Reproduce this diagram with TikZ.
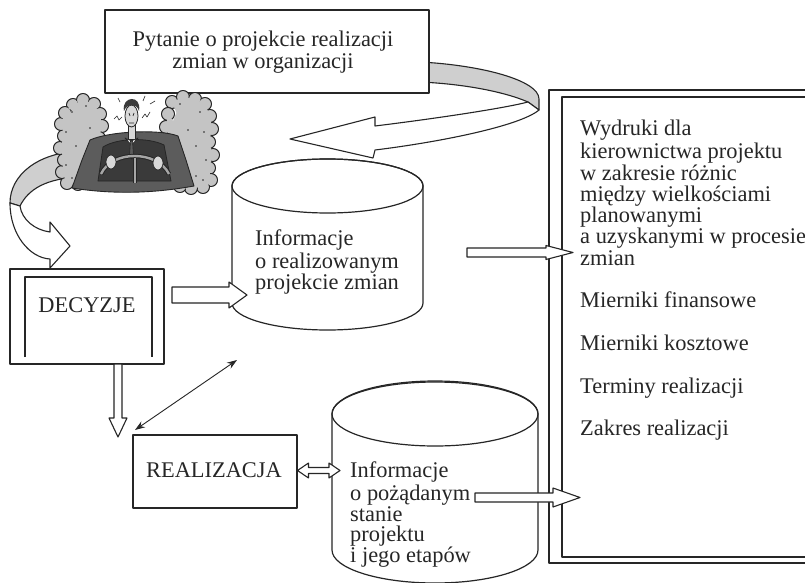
\documentclass[tikz,border=0pt]{standalone}
\usepackage{fontspec}
\setmainfont{Liberation Serif}
\usetikzlibrary{calc,arrows.meta}

\definecolor{ink}{HTML}{262626}
\definecolor{bandgray}{HTML}{CFCFCF}
\definecolor{cloud}{HTML}{C4C4C4}
\definecolor{coat}{HTML}{5C5C5C}
\definecolor{darkcoat}{HTML}{3A3A3A}
\definecolor{skin}{HTML}{D8D8D8}

% hollow block arrow: start, tip, shaft half-width, head half-width, head length
\newcommand\hollowarrow[5]{%
  \coordinate (ha-b) at ($(#2)!#5!(#1)$);
  \draw[blockarrow]
    ($(#1)!#3!90:(#2)$) -- ($(ha-b)!#3!90:(#2)$) -- ($(ha-b)!#4!90:(#2)$) -- (#2)
    -- ($(ha-b)!#4!-90:(#2)$) -- ($(ha-b)!#3!-90:(#2)$) -- ($(#1)!#3!-90:(#2)$) -- cycle;
}
% hollow block arrow with a head at both ends
\newcommand\hollowdarrow[5]{%
  \coordinate (hb-a) at ($(#1)!#5!(#2)$);
  \coordinate (hb-b) at ($(#2)!#5!(#1)$);
  \draw[blockarrow]
    (#1) -- ($(hb-a)!#4!90:(#2)$) -- ($(hb-a)!#3!90:(#2)$) -- ($(hb-b)!#3!90:(#2)$)
    -- ($(hb-b)!#4!90:(#2)$) -- (#2) -- ($(hb-b)!#4!-90:(#2)$) -- ($(hb-b)!#3!-90:(#2)$)
    -- ($(hb-a)!#3!-90:(#2)$) -- ($(hb-a)!#4!-90:(#2)$) -- cycle;
}
% lumpy smoke column: rim points, puff radius, inner centre, inner half-width, inner half-height
\newcommand\smokecolumn[5]{%
  \foreach \px/\py in {#1} \draw[draw=ink, line width=1pt, fill=cloud] (\px,\py) circle[radius=#2];
  \foreach \px/\py in {#1} \fill[cloud] (\px,\py) circle[radius=#2-1pt];
  \fill[cloud] (#3) \foreach \px/\py in {#1} { -- (\px,\py) } -- cycle;
  \fill[cloud] (#3) ellipse[x radius=#4, y radius=#5];
}

\begin{document}
\begin{tikzpicture}[x=1pt, y=-1pt, line join=round,
  ln/.style={draw=ink, line width=1.2pt},
  box/.style={ln, fill=white, inner sep=0pt},
  lbl/.style={font=\fontsize{22.4}{#1}\selectfont, text=ink, inner sep=0pt},
  lbl/.default=21.3,
  blockarrow/.style={draw=ink, line width=1.1pt, fill=white},
  band/.style={draw=ink, line width=1.1pt, fill=bandgray},
  cylbody/.style={ln, fill=white},
]
\useasboundingbox (0,0) rectangle (805,583);
\fill[white] (0,0) rectangle (805,583);

% ---------- report frame on the right ----------
\draw[ln] (549,90) rectangle (830,563);
\draw[ln] (562,97) rectangle (820,557);
\node[lbl, anchor=north west, align=left] (report) at (580,120.1)
  {\strut Wydruki dla\\kierownictwa projektu\\w zakresie różnic\\między wielkościami\\planowanymi\\a uzyskanymi w procesie\\zmian\\[21.3pt]
   Mierniki finansowe\\[21.3pt]Mierniki kosztowe\\[21.3pt]Terminy realizacji\\[21.3pt]Zakres realizacji};

% ---------- ribbon arrow returning from the right ----------
\draw[band] (420,62) .. controls (480,65) and (539,80) .. (539,99) -- (539,110) -- (528,102)
  .. controls (505,92) and (465,84) .. (420,82) -- cycle;
\node[box, minimum width=324pt, minimum height=83pt] (question) at (267,51.5) {};
\node[lbl=21, anchor=north, align=center] (questiontxt) at (263,30.3)
  {\strut Pytanie o projekcie realizacji\\zmian w organizacji};
\draw[blockarrow] (528,102) .. controls (505,108) and (440,118) .. (375,126) -- (375,117)
  -- (290,139) -- (373,158) -- (375,150) .. controls (440,142) and (520,126) .. (539,110) -- cycle;

% ---------- ribbon arrow from the driver down to the decisions ----------
\draw[band] (82,151) .. controls (38,152) and (10,175) .. (10,203) -- (20,206)
  .. controls (28,190) and (45,178) .. (82,177) -- cycle;

% ---------- driver in the smoke ----------
\begin{scope}
  % smoke columns
  \smokecolumn{73/105, 83/100, 94/104, 100/114, 102/126, 99/138, 101/150, 98/163,
    99/175, 90/183, 78/184, 67/183, 62/172, 64/160, 60/148, 64/136, 61/124, 65/113}{6.5pt}{81,143}{18pt}{38pt}
  \smokecolumn{172/102, 183/97, 195/99, 205/104, 210/116, 212/129, 209/142, 213/155,
    209/168, 211/180, 203/187, 191/188, 180/186, 172/177, 170/164, 166/152, 170/139,
    166/127, 168/114}{6.5pt}{189,143}{19pt}{40pt}
  \foreach \dx/\dy in {72/112, 86/106, 66/132, 90/128, 76/146, 66/165, 84/170, 72/178, 94/158,
      180/104, 200/112, 188/130, 204/132, 196/146, 178/150, 206/160, 196/176, 184/180, 203/180}
    \fill[ink] (\dx,\dy) circle[radius=0.9pt];
  % car interior
  \filldraw[draw=ink, line width=0.9pt, fill=coat] (90,140) .. controls (110,131) and (160,129) .. (178,136)
    -- (186,160) -- (194,186) .. controls (150,194) and (110,194) .. (72,188) -- (82,160) -- cycle;
  % torso
  \filldraw[draw=ink, line width=0.8pt, fill=darkcoat] (103,147) .. controls (117,138) and (148,137) .. (164,145)
    -- (171,181) -- (98,181) -- cycle;
  % neck, collar and tie
  \filldraw[draw=ink, line width=0.7pt, fill=skin] (128,125) rectangle (135,139);
  \filldraw[draw=ink, line width=0.7pt, fill=white] (125,138) -- (131.5,145) -- (138,138) -- (131.5,141) -- cycle;
  \filldraw[draw=ink, line width=0.6pt, fill=coat] (130.5,141) -- (132.5,141) -- (133.5,156) -- (131.5,159) -- (129.5,156) -- cycle;
  % head and hair
  \filldraw[draw=ink, line width=0.8pt, fill=skin] (131.5,116) ellipse[x radius=6.5pt, y radius=11pt];
  \fill[darkcoat] (124,111) .. controls (121,96) and (142,94) .. (139,111) .. controls (137,103) and (127,103) .. cycle;
  \draw[ink, line width=0.7pt] (129,113) -- (130,116) (134,113) -- (133,116) (129,123) -- (134,123);
  % stress marks
  \draw[ink, line width=0.6pt] (114,119) -- (117,116) -- (119,120) -- (122,117)
    (142,118) -- (145,114) -- (147,117) -- (150,112)
    (118,98) -- (120,102) (145,96) -- (143,101) (150,104) -- (155,101);
  % steering wheel
  \draw[ink, line width=4.4pt] (101,174) .. controls (112,150) and (157,150) .. (169,174);
  \draw[gray!70, line width=2.4pt] (101,174) .. controls (112,150) and (157,150) .. (169,174);
  \draw[ink, line width=3.6pt] (135,158) -- (135,183);
  \draw[gray!70, line width=1.8pt] (135,158) -- (135,183);
  % hands
  \filldraw[draw=ink, line width=0.7pt, fill=skin] (111,162) ellipse[x radius=5pt, y radius=7pt];
  \filldraw[draw=ink, line width=0.7pt, fill=skin] (158,163) ellipse[x radius=5pt, y radius=7pt];
\end{scope}

\draw[blockarrow] (10,203) .. controls (10,235) and (30,258) .. (50,259) -- (50,268) -- (70,246)
  -- (50,222) -- (50,232) .. controls (35,230) and (22,220) .. (20,206) -- cycle;

% ---------- decisions ----------
\node[box, minimum width=154pt, minimum height=95pt] (dec) at (87,316.5) {};
\draw[ln] (25,357) -- (25,277) -- (152,277) -- (152,357);
\node[lbl, anchor=base] (dectxt) at (87,312) {DECYZJE};

% ---------- realisation ----------
\node[box, minimum width=164pt, minimum height=73pt] (real) at (215,471.5) {};
\node[lbl, anchor=base] (realtxt) at (214,477) {REALIZACJA};

% ---------- database: project being carried out ----------
\filldraw[cylbody] (232,186) -- (232,303) arc[start angle=180, end angle=360, x radius=95.5pt, y radius=27pt]
  -- (423,186) arc[start angle=0, end angle=180, x radius=95.5pt, y radius=27pt] -- cycle;
\draw[ln] (327.5,186) ellipse[x radius=95.5pt, y radius=27pt];
\node[lbl=21, anchor=north west, align=left] (cyl1txt) at (255,229.3)
  {\strut Informacje\\o realizowanym\\projekcie zmian};

% ---------- database: desired state ----------
\filldraw[cylbody] (332,414) -- (332,550) arc[start angle=180, end angle=360, x radius=103pt, y radius=33pt]
  -- (538,414) arc[start angle=0, end angle=180, x radius=103pt, y radius=33pt] -- cycle;
\draw[ln] (435,414) ellipse[x radius=103pt, y radius=32pt];
\node[lbl=20.5, anchor=north west, align=left] (cyl2txt) at (350,462)
  {\strut Informacje\\o pożądanym\\stanie\\projektu\\i jego etapów};

% ---------- connectors ----------
\coordinate (decout) at (172,295);
\coordinate (cyl1in) at (247,295);
\hollowarrow{decout}{cyl1in}{8pt}{13pt}{18pt}

\coordinate (decdown) at (118,364);
\coordinate (realin) at (118,437);
\hollowarrow{decdown}{realin}{4pt}{9pt}{19pt}

\coordinate (cyl1out) at (467,252.5);
\coordinate (reportin1) at (573,252.5);
\hollowarrow{cyl1out}{reportin1}{4.5pt}{7pt}{27pt}

\coordinate (cyl2out) at (475,497.5);
\coordinate (reportin2) at (580,497.5);
\hollowarrow{cyl2out}{reportin2}{4.5pt}{9.5pt}{27pt}

\coordinate (realout) at (297.5,470.5);
\coordinate (cyl2in) at (340,470.5);
\hollowdarrow{realout}{cyl2in}{3pt}{7.5pt}{11pt}

\coordinate (feedback) at (237,360);
\coordinate (realcorner) at (135,430);
\draw[draw=ink, line width=0.9pt, {Stealth[length=10pt,width=7pt]}-{Stealth[length=10pt,width=7pt]}]
  (realcorner) -- (feedback);
\end{tikzpicture}
\end{document}
